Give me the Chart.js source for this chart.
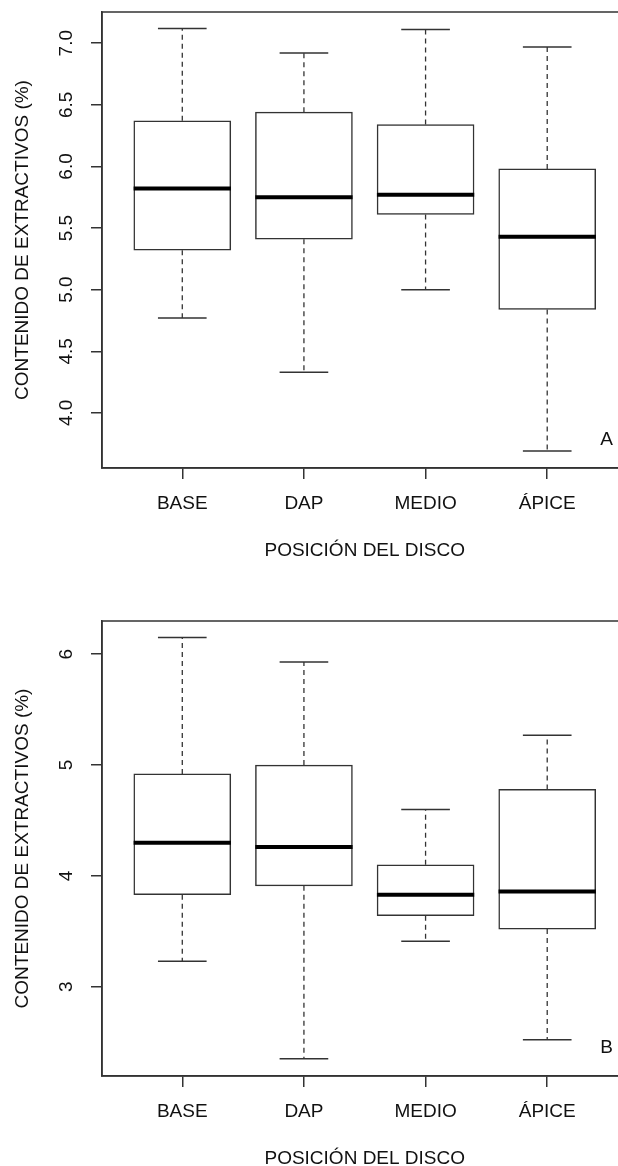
<!DOCTYPE html>
<html>
<head>
<meta charset="utf-8">
<script src="https://cdn.jsdelivr.net/npm/chart.js@4.4.1/dist/chart.umd.min.js"></script>
<style>
  html, body { margin: 0; padding: 0; background: #fff; }
  #page { position: relative; width: 618px; height: 1166px; overflow: hidden; background: #fff; }
  canvas { position: absolute; left: 0; }
  #chartA { top: 0; }
  #chartB { top: 608px; }
</style>
</head>
<body>
<div id="page">
  <canvas id="chartA" width="640" height="583"></canvas>
  <canvas id="chartB" width="640" height="583"></canvas>
</div>
<script>
const categories = ['BASE', 'DAP', 'MEDIO', 'ÁPICE'];
const xTitle = 'POSICIÓN DEL DISCO';
const yTitle = 'CONTENIDO DE EXTRACTIVOS (%)';

// panel A
const lowA  = [4.77, 4.33, 5.00, 3.69];
const q1A   = [5.32, 5.41, 5.61, 4.84];
const medA  = [5.82, 5.75, 5.77, 5.43];
const q3A   = [6.37, 6.44, 6.34, 5.98];
const highA = [7.12, 6.92, 7.11, 6.97];
const ticksA = [4.0, 4.5, 5.0, 5.5, 6.0, 6.5, 7.0];

// panel B
const lowB  = [3.23, 2.35, 3.41, 2.52];
const q1B   = [3.83, 3.91, 3.64, 3.52];
const medB  = [4.30, 4.26, 3.83, 3.86];
const q3B   = [4.92, 5.00, 4.10, 4.78];
const highB = [6.15, 5.93, 4.60, 5.27];
const ticksB = [3, 4, 5, 6];

const ink = '#333';
const txt = '#111';
const font = { family: "'Liberation Sans', Arial, sans-serif", size: 19 };

// little helpers to turn the arrays into line segments split by gaps
const vSegs = (from, to) => from.flatMap((v, i) => [
  { x: i + 1, y: v }, { x: i + 1, y: to[i] }, { x: i + 1, y: null }
]);
const hSegs = (vals, half) => vals.flatMap((v, i) => [
  { x: i + 1 - half, y: v }, { x: i + 1 + half, y: v }, { x: i + 1, y: null }
]);

const frame = {
  id: 'frame',
  afterDraw(chart, args, opts) {
    const { ctx, chartArea: a } = chart;
    ctx.save();
    ctx.strokeStyle = ink;
    ctx.lineWidth = 1.5;
    ctx.strokeRect(a.left, a.top, a.right - a.left, a.bottom - a.top);
    ctx.fillStyle = txt;
    ctx.font = "19px 'Liberation Sans', Arial, sans-serif";
    ctx.textAlign = 'center';
    ctx.textBaseline = 'middle';
    ctx.fillText(opts.letter, a.right - 21, a.bottom - 28);
    ctx.restore();
  }
};

function makeChart(id, low, q1, med, q3, high, yTicks, yMin, yMax, padTop, letter, fmt, tickPad) {
  const lineDs = (data, width, dash, order) => ({
    type: 'line', data, order, borderColor: width > 3 ? '#000' : ink, borderWidth: width,
    borderDash: dash, pointRadius: 0, fill: false, spanGaps: false, tension: 0,
    borderCapStyle: 'butt'
  });
  return new Chart(document.getElementById(id), {
    type: 'bar',
    data: {
      datasets: [
        lineDs(vSegs(q3, high).concat(vSegs(q1, low)), 1.3, [5, 4], 2),
        lineDs(hSegs(high, 0.2).concat(hSegs(low, 0.2)), 1.5, [], 1),
        {
          type: 'bar', order: 3,
          data: q1.map((v, i) => ({ x: i + 1, y: [v, q3[i]] })),
          backgroundColor: '#fff', borderColor: ink, borderWidth: 1.5,
          borderSkipped: false, barThickness: 97, grouped: false
        },
        lineDs(hSegs(med, 0.4), 4, [], 0)
      ]
    },
    options: {
      responsive: false,
      animation: false,
      devicePixelRatio: 1,
      layout: { padding: { top: padTop, right: 12.5, left: 0, bottom: 0 } },
      plugins: { legend: { display: false }, tooltip: { enabled: false }, frame: { letter } },
      scales: {
        x: {
          type: 'linear', min: 0.34, max: 4.66, offset: false,
          afterBuildTicks: s => { s.ticks = categories.map((c, i) => ({ value: i + 1 })); },
          afterFit: s => { s.height = 115; s.paddingLeft = 0; s.paddingRight = 0; },
          ticks: { callback: v => categories[v - 1], font, color: txt, padding: 13,
                   autoSkip: false, maxRotation: 0 },
          grid: { offset: false, drawOnChartArea: false, tickLength: 11, color: ink, lineWidth: 1.5 },
          border: { display: true, color: ink, width: 1.5 },
          title: { display: true, text: xTitle, font, color: txt, padding: { top: 0, bottom: 21 } }
        },
        y: {
          min: yMin, max: yMax,
          afterBuildTicks: s => { s.ticks = yTicks.map(v => ({ value: v })); },
          afterFit: s => { s.width = 102; s.paddingTop = 0; s.paddingBottom = 0; },
          ticks: { callback: fmt, font, color: txt, padding: tickPad,
                   minRotation: 90, maxRotation: 90, crossAlign: 'center' },
          grid: { drawOnChartArea: false, tickLength: 11, color: ink, lineWidth: 1.5 },
          border: { display: true, color: ink, width: 1.5 },
          title: { display: true, text: yTitle, font, color: txt, padding: { top: 11, bottom: 0 } }
        }
      }
    },
    plugins: [frame]
  });
}

makeChart('chartA', lowA, q1A, medA, q3A, highA, ticksA, 3.553, 7.253, 12, 'A', v => v.toFixed(1), 11);
makeChart('chartB', lowB, q1B, medB, q3B, highB, ticksB, 2.194, 6.30, 13, 'B', v => String(v), 18.7);
</script>
</body>
</html>
